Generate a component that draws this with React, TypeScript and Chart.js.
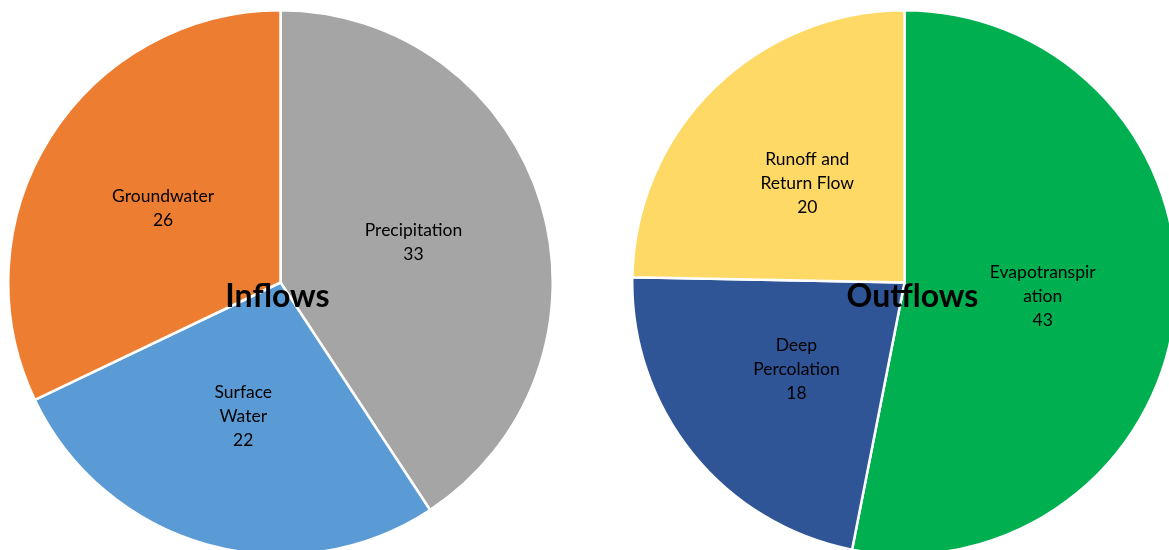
import React, { useEffect, useRef } from "react";
import { Chart, registerables } from "chart.js";

Chart.register(...registerables);

const inflowCategories = ["Precipitation", "Surface Water", "Groundwater"];
const inflowLabelLines = [["Precipitation"], ["Surface", "Water"], ["Groundwater"]];
const inflowValues = [33, 22, 26];
const inflowColors = ["#A5A5A5", "#5B9BD5", "#ED7D31"];

const outflowCategories = ["Evapotranspiration", "Deep Percolation", "Runoff and Return Flow"];
const outflowLabelLines = [["Evapotranspir", "ation"], ["Deep", "Percolation"], ["Runoff and", "Return Flow"]];
const outflowValues = [43, 18, 20];
const outflowColors = ["#00B050", "#2F5597", "#FFD966"];

const LABEL_FONT = "17.5px Lato, 'Open Sans', sans-serif";
const TITLE_FONT = "bold 32px Lato, 'Open Sans', sans-serif";

function makePlugin(lines: string[][], title: string, titleDx: number, titleDy: number) {
  return {
    id: "sliceLabels",
    afterDatasetsDraw(chart: any) {
      const ctx = chart.ctx;
      const meta = chart.getDatasetMeta(0);
      const values = chart.data.datasets[0].data;
      ctx.save();
      ctx.fillStyle = "#000";
      ctx.font = LABEL_FONT;
      ctx.textAlign = "center";
      ctx.textBaseline = "middle";
      meta.data.forEach((arc: any, i: number) => {
        const mid = (arc.startAngle + arc.endAngle) / 2;
        const r = arc.outerRadius * 0.51;
        const cx = arc.x + Math.cos(mid) * r;
        const cy = arc.y + Math.sin(mid) * r;
        const all = [...lines[i], String(values[i])];
        const lh = 24;
        const y0 = cy - ((all.length - 1) * lh) / 2;
        all.forEach((t, k) => ctx.fillText(t, cx, y0 + k * lh));
      });
      const a0 = meta.data[0];
      ctx.font = TITLE_FONT;
      ctx.fillText(title, a0.x + titleDx, a0.y + titleDy);
      ctx.restore();
    },
  };
}

function Pie(props: {
  labels: string[];
  values: number[];
  colors: string[];
  lines: string[][];
  title: string;
  left: number;
  titleDx: number;
  titleDy: number;
}) {
  const ref = useRef<HTMLCanvasElement | null>(null);
  useEffect(() => {
    if (!ref.current) return;
    const chart = new Chart(ref.current, {
      type: "pie",
      data: {
        labels: props.labels,
        datasets: [
          {
            data: props.values,
            backgroundColor: props.colors,
            borderColor: "#FFFFFF",
            borderWidth: 2.5,
          },
        ],
      },
      options: {
        responsive: false,
        animation: false,
        devicePixelRatio: 1,
        layout: { padding: 0 },
        plugins: {
          legend: { display: false },
          tooltip: { enabled: false },
          title: { display: false },
        },
      },
      plugins: [makePlugin(props.lines, props.title, props.titleDx, props.titleDy)],
    });
    return () => chart.destroy();
  }, []);
  return (
    <canvas
      ref={ref}
      width={547}
      height={547}
      style={{ position: "absolute", left: props.left, top: 9, width: 547, height: 547 }}
    />
  );
}

export default function App() {
  return (
    <div
      style={{
        position: "absolute",
        left: 0,
        top: 0,
        width: 1169,
        height: 550,
        overflow: "hidden",
        background: "#FFFFFF",
      }}
    >
      <Pie
        labels={inflowCategories}
        values={inflowValues}
        colors={inflowColors}
        lines={inflowLabelLines}
        title="Inflows"
        left={7}
        titleDx={-3}
        titleDy={14}
      />
      <Pie
        labels={outflowCategories}
        values={outflowValues}
        colors={outflowColors}
        lines={outflowLabelLines}
        title="Outflows"
        left={631}
        titleDx={8}
        titleDy={14}
      />
    </div>
  );
}
